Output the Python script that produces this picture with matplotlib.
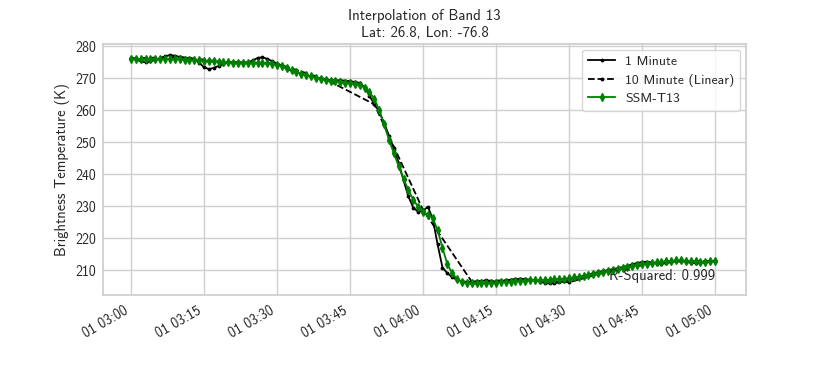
import numpy as np
import pandas as pd
import matplotlib
matplotlib.use("Agg")
import matplotlib.pyplot as plt
import matplotlib.dates as mdates

# ---- data ----
one_min = [276.2, 275.9, 275.2, 274.9, 275.2, 275.8, 276.2, 276.8, 277.2, 277.0,
           276.6, 276.3, 276.2, 275.9, 274.8, 273.4, 272.8, 273.2, 273.8, 274.4,
           274.9, 275.0, 275.0, 274.9, 274.9, 275.5, 276.3, 276.5, 276.0, 275.3,
           274.5, 273.8, 272.9, 272.3, 271.8, 271.3, 270.9, 270.5, 270.2, 269.9,
           269.6, 269.4, 269.3, 269.3, 269.2, 269.0, 268.8, 268.5, 267.2, 264.5,
           261.8, 259.5, 256.0, 252.0, 248.0, 243.5, 238.0, 233.0, 229.5, 228.2,
           228.5, 229.8, 226.0, 218.0, 210.8, 209.0, 207.8, 206.9, 206.5, 206.3,
           206.4, 206.5, 206.6, 206.8, 206.6, 206.4, 206.6, 206.8, 207.0, 207.2,
           207.3, 207.2, 207.0, 206.8, 206.4, 206.0, 205.8, 205.9, 206.2, 206.6,
           207.0, 207.4, 207.8, 208.2, 208.6, 209.0, 209.4, 209.7, 210.0, 210.3,
           210.6, 210.9, 211.3, 211.8, 212.2, 212.5, 212.6, 212.4, 212.0, 211.9,
           212.2, 212.5, 212.8, 212.8, 212.6, 212.3, 212.1, 212.2, 212.4, 212.6,
           212.9]

ten_min = [276.2, 276.6, 274.9, 274.5, 269.6, 261.8, 228.8, 206.4, 207.0, 206.2,
           210.3, 212.6, 212.9]

ssm_t13 = [276.0, 276.0, 276.0, 276.0, 276.0, 276.0, 276.0, 276.0, 276.0, 275.9,
           275.9, 275.8, 275.7, 275.6, 275.5, 275.4, 275.3, 275.2, 275.1, 275.0,
           274.9, 274.8, 274.8, 274.8, 274.8, 274.8, 274.8, 274.8, 274.7, 274.5,
           274.2, 273.7, 273.1, 272.5, 271.9, 271.4, 270.9, 270.5, 270.1, 269.8,
           269.5, 269.2, 269.0, 268.8, 268.6, 268.4, 268.2, 267.8, 267.0, 265.6,
           263.5, 260.0, 255.5, 250.8, 246.5, 242.5, 238.5, 235.0, 232.0, 229.8,
           228.2, 227.2, 226.2, 222.5, 217.0, 211.8, 209.0, 207.2, 206.3, 205.9,
           205.8, 205.8, 205.8, 205.9, 206.0, 206.1, 206.2, 206.3, 206.4, 206.5,
           206.6, 206.7, 206.8, 206.8, 206.8, 206.9, 207.0, 207.1, 207.2, 207.3,
           207.5, 207.7, 207.9, 208.2, 208.5, 208.8, 209.1, 209.4, 209.7, 210.0,
           210.3, 210.6, 210.9, 211.2, 211.5, 211.8, 212.0, 212.2, 212.4, 212.6,
           212.8, 212.9, 213.0, 213.0, 212.9, 212.8, 212.7, 212.6, 212.6, 212.7,
           212.8]

t_one = pd.date_range("2020-01-01 03:00", "2020-01-01 05:00", freq="1min")
t_ten = pd.date_range("2020-01-01 03:00", "2020-01-01 05:00", freq="10min")

title = "Interpolation of Band 13\nLat: 26.8, Lon: -76.8"
ylabel = "Brightness Temperature (K)"
r2_text = "R-Squared: 0.999"

# ---- style ----
plt.rcParams['font.family'] = ['cmss10', 'DejaVu Sans']
plt.rcParams['axes.unicode_minus'] = False
plt.rcParams['axes.formatter.use_mathtext'] = False

fig = plt.figure(figsize=(8.3, 3.69), dpi=100)
ax = fig.add_axes([0.1245, 0.2005, 0.7743, 0.6815])

txtc = '#262626'
ax.set_facecolor('white')
ax.grid(True, color='#d0d0d0', linewidth=1.0)
ax.set_axisbelow(True)
for s in ax.spines.values():
    s.set_color('#cccccc')
    s.set_linewidth(1.2)
ax.tick_params(length=0, labelsize=10, colors=txtc)
ax.tick_params(axis='x', pad=6)
ax.tick_params(axis='y', pad=5)

ax.plot(t_one, one_min, color='black', marker='.', markersize=3.5, linewidth=1.3,
        label='1 Minute')
ax.plot(t_ten, ten_min, color='black', linestyle='--', marker='.', markersize=3.5,
        linewidth=1.3, label='10 Minute (Linear)')
ax.plot(t_one, ssm_t13, color='green', marker='d', markersize=4, linewidth=1.3,
        label='SSM-T13')

ax.set_xlim(t_one[0] - pd.Timedelta(minutes=5.69), t_one[-1] + pd.Timedelta(minutes=6.37))
ax.set_ylim(202.2, 280.8)
ax.set_yticks(np.arange(210, 281, 10))
ax.xaxis.set_major_locator(mdates.MinuteLocator(byminute=[0, 15, 30, 45]))
ax.xaxis.set_major_formatter(mdates.DateFormatter('%d %H:%M'))
for lab in ax.get_xticklabels():
    lab.set_rotation(30)
    lab.set_ha('right')

ax.set_title(title, fontsize=10.7, color=txtc, pad=5)
ax.set_ylabel(ylabel, fontsize=10.5, color=txtc)

ax.text(t_one[-1], 208.1, r2_text, ha='right', va='center', fontsize=10.6, color=txtc)

leg = ax.legend(loc='upper right', fontsize=9.9, frameon=True, fancybox=True,
                edgecolor='#cccccc', framealpha=0.8, borderpad=0.4,
                labelspacing=0.42, handlelength=2.0, handletextpad=0.7,
                borderaxespad=0.45)
for t in leg.get_texts():
    t.set_color(txtc)

fig.savefig('out.png', dpi=100)
